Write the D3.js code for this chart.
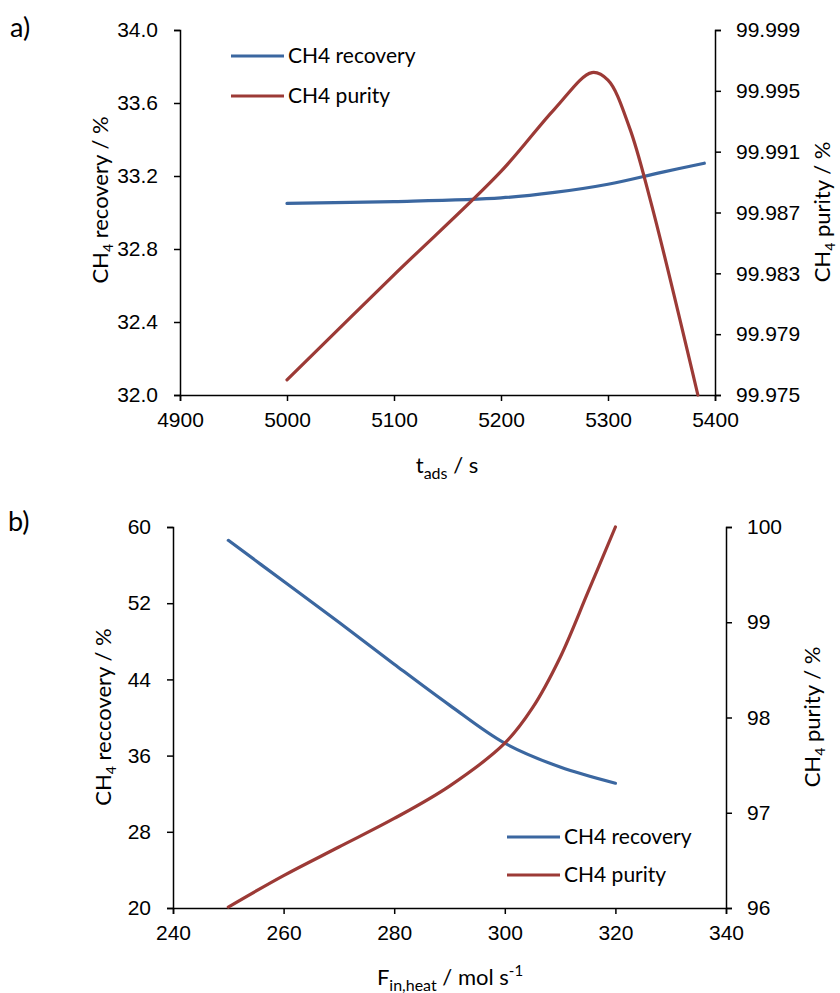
<!DOCTYPE html>
<html>
<head>
<meta charset="utf-8">
<script src="https://cdn.jsdelivr.net/npm/d3@7/dist/d3.min.js"></script>
<style>
  body { margin: 0; background: #fff; }
  svg { display: block; font-family: Lato, "Open Sans", sans-serif; }
  .tick text { font-size: 21px; fill: #000; }
  .axis path, .axis line { stroke: #000; stroke-width: 1.5; }
</style>
</head>
<body>
<div id="container"></div>
<script>
// panel a) - adsorption time sweep
const tadsTicks = [4900, 5000, 5100, 5200, 5300, 5400];
const recoveryTicksA = [32.0, 32.4, 32.8, 33.2, 33.6, 34.0];
const purityTicksA = [99.975, 99.979, 99.983, 99.987, 99.991, 99.995, 99.999];
const recoveryA = [[5000, 33.05], [5100, 33.06], [5200, 33.08], [5250, 33.11], [5300, 33.155], [5350, 33.22], [5390, 33.27]];
const purityA = [[5000, 99.9760], [5100, 99.9829], [5200, 99.9897], [5250, 99.9938], [5285, 99.9962],
  [5300, 99.9957], [5320, 99.9926], [5340, 99.9877], [5384, 99.9750]];

// panel b) - heating flow sweep
const fheatTicks = [240, 260, 280, 300, 320, 340];
const recoveryTicksB = [20, 28, 36, 44, 52, 60];
const purityTicksB = [96, 97, 98, 99, 100];
const recoveryB = [[250, 58.6], [260, 54.3], [270, 50.0], [280, 45.6], [290, 41.3], [300, 37.3], [310, 34.8], [320, 33.1]];
const purityB = [[250, 96.01], [260, 96.34], [270, 96.64], [280, 96.94], [290, 97.28], [300, 97.73],
  [305, 98.10], [310, 98.63], [315, 99.31], [320, 100.0]];

const seriesNames = ['CH4 recovery', 'CH4 purity'];
const BLUE = '#3b67a0';
const RED = '#9c3a36';

const svg = d3.select('#container')
  .append('svg')
  .attr('width', 840)
  .attr('height', 993);

function drawPanel(cfg) {
  const x = d3.scaleLinear().domain(d3.extent(cfg.xTicks)).range([cfg.left, cfg.right]);
  const yL = d3.scaleLinear().domain(d3.extent(cfg.yLTicks)).range([cfg.bottom, cfg.top]);
  const yR = d3.scaleLinear().domain(d3.extent(cfg.yRTicks)).range([cfg.bottom, cfg.top]);
  const g = svg.append('g');

  g.append('g').attr('class', 'axis')
    .attr('transform', `translate(0,${cfg.bottom})`)
    .call(d3.axisBottom(x).tickValues(cfg.xTicks).tickSizeOuter(0).tickSize(6).tickPadding(11).tickFormat(d3.format('d')));
  g.append('g').attr('class', 'axis')
    .attr('transform', `translate(${cfg.left},0)`)
    .call(d3.axisLeft(yL).tickValues(cfg.yLTicks).tickSizeOuter(0).tickSize(6).tickPadding(16).tickFormat(d3.format(cfg.yLFormat)));
  g.append('g').attr('class', 'axis')
    .attr('transform', `translate(${cfg.right},0)`)
    .call(d3.axisRight(yR).tickValues(cfg.yRTicks).tickSizeOuter(0).tickSize(6).tickPadding(15).tickFormat(d3.format(cfg.yRFormat)));
  g.selectAll('.axis .domain').attr('stroke-width', 1.8);

  const lineL = d3.line().curve(d3.curveCatmullRom.alpha(0.5)).x(d => x(d[0])).y(d => yL(d[1]));
  const lineR = d3.line().curve(d3.curveCatmullRom.alpha(0.5)).x(d => x(d[0])).y(d => yR(d[1]));

  g.append('path').datum(cfg.recovery).attr('d', lineL)
    .attr('fill', 'none').attr('stroke', BLUE).attr('stroke-width', 3.2).attr('stroke-linecap', 'round');
  g.append('path').datum(cfg.purity).attr('d', lineR)
    .attr('fill', 'none').attr('stroke', RED).attr('stroke-width', 3.2).attr('stroke-linecap', 'round');

  // legend
  const lg = g.selectAll('.legend')
    .data(seriesNames)
    .join('g')
    .attr('transform', (d, i) => `translate(${cfg.legendX},${cfg.legendY + i * cfg.legendGap})`);
  lg.append('line').attr('x1', 0).attr('x2', 53)
    .attr('stroke', (d, i) => i === 0 ? BLUE : RED).attr('stroke-width', 3.2);
  lg.append('text').attr('x', 57).attr('dy', '0.35em')
    .attr('font-size', 21).text(d => d);

  // panel label
  g.append('text').attr('x', cfg.labelX).attr('y', cfg.labelY)
    .attr('font-size', 27).text(cfg.label);

  // axis titles
  const yTitle = (tx, ty, rest) => {
    const t = g.append('text')
      .attr('transform', `translate(${tx},${ty}) rotate(-90)`)
      .attr('text-anchor', 'middle')
      .attr('font-size', 22);
    t.append('tspan').text('CH');
    t.append('tspan').attr('font-size', 14).attr('dy', 5).text('4');
    t.append('tspan').attr('dy', -5).text(rest);
  };
  yTitle(cfg.yLTitleX, cfg.yLTitleY, cfg.yLTitle);
  yTitle(cfg.yRTitleX, cfg.yRTitleY, ' purity / %');

  const xt = g.append('text')
    .attr('x', cfg.xTitleX).attr('y', cfg.xTitleY)
    .attr('text-anchor', 'middle')
    .attr('font-size', 22);
  xt.append('tspan').text(cfg.xTitle[0]);
  xt.append('tspan').attr('font-size', 16).attr('dy', 6).text(cfg.xTitle[1]);
  xt.append('tspan').attr('dy', -6).text(cfg.xTitle[2]);
  if (cfg.xTitle[3]) {
    xt.append('tspan').attr('font-size', 15).attr('dy', -9).text(cfg.xTitle[3]);
  }
}

drawPanel({
  left: 180, right: 715, top: 30, bottom: 395,
  xTicks: tadsTicks, yLTicks: recoveryTicksA, yRTicks: purityTicksA,
  yLFormat: '.1f', yRFormat: '.3f',
  recovery: recoveryA, purity: purityA,
  legendX: 231, legendY: 56, legendGap: 40,
  label: 'a)', labelX: 10, labelY: 37,
  yLTitle: ' recovery / %', yLTitleX: 108, yLTitleY: 200,
  yRTitleX: 830, yRTitleY: 212,
  xTitle: ['t', 'ads', ' / s'], xTitleX: 447, xTitleY: 473
});

drawPanel({
  left: 173, right: 726, top: 527, bottom: 908,
  xTicks: fheatTicks, yLTicks: recoveryTicksB, yRTicks: purityTicksB,
  yLFormat: 'd', yRFormat: 'd',
  recovery: recoveryB, purity: purityB,
  legendX: 507, legendY: 837, legendGap: 38,
  label: 'b)', labelX: 8, labelY: 531,
  yLTitle: ' reccovery / %', yLTitleX: 111, yLTitleY: 717,
  yRTitleX: 820, yRTitleY: 717,
  xTitle: ['F', 'in,heat', ' / mol s', '-1'], xTitleX: 450, xTitleY: 985
});
</script>
</body>
</html>
